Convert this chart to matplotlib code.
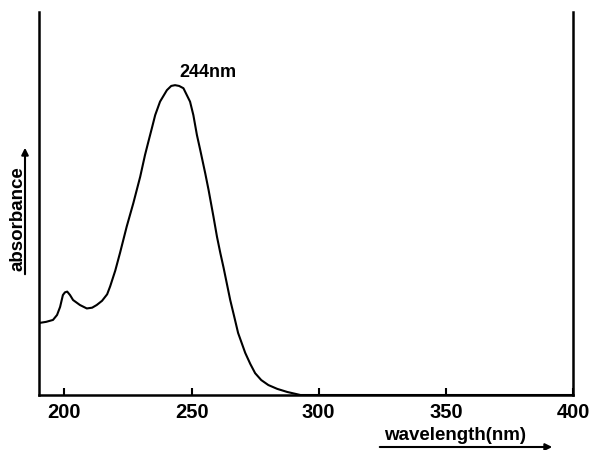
import numpy as np
import matplotlib.pyplot as plt
from matplotlib.patches import FancyArrowPatch

# UV spectrum (wavelength nm, relative absorbance)
wavelength = [190.0, 192.8, 195.5, 197.1, 198.3, 199.4, 200.2, 201.1, 202.2, 203.4,
              206.1, 208.8, 210.9, 212.7, 214.8, 216.8, 218.0, 220.0, 221.9, 224.5,
              227.1, 229.8, 231.7, 233.0, 234.4, 235.7, 237.6, 240.3, 242.0, 243.5,
              245.1, 246.8, 249.4, 250.7, 252.1, 253.4, 255.4, 256.7, 258.6, 260.0,
              261.3, 262.6, 265.2, 266.8, 268.3, 271.1, 273.1, 275.0, 277.4, 280.2,
              283.7, 287.6, 292.8, 400.0]
absorbance = [0.188, 0.191, 0.196, 0.209, 0.230, 0.261, 0.268, 0.270, 0.261, 0.248,
              0.235, 0.226, 0.228, 0.235, 0.246, 0.263, 0.284, 0.325, 0.372, 0.440,
              0.501, 0.570, 0.627, 0.661, 0.697, 0.731, 0.766, 0.796, 0.807, 0.809,
              0.807, 0.801, 0.766, 0.731, 0.679, 0.640, 0.578, 0.535, 0.466, 0.413,
              0.371, 0.332, 0.248, 0.204, 0.162, 0.110, 0.081, 0.057, 0.039, 0.026,
              0.016, 0.008, 0.0, 0.0]
xticks = [200, 250, 300, 350, 400]
peak_label = "244nm"

plt.rcParams['font.family'] = ['Liberation Sans', 'DejaVu Sans']

fig = plt.figure(figsize=(5.99, 4.5), dpi=100)
ax = fig.add_axes([0.0651, 0.1222, 0.8915, 0.8511])

ax.plot(wavelength, absorbance, color='black', lw=1.5,
        solid_joinstyle='round', solid_capstyle='round')

ax.set_xlim(190, 400)
ax.set_ylim(0, 1)
ax.spines['top'].set_visible(False)
for s in ['left', 'right', 'bottom']:
    ax.spines[s].set_linewidth(1.8)
ax.set_yticks([])
ax.set_xticks(xticks)
ax.set_xticklabels([str(t) for t in xticks], fontsize=14.5, fontweight='bold')
ax.tick_params(axis='x', direction='in', length=5, width=1.5, pad=6)

ax.text(256.5, 0.843, peak_label, ha='center', va='center',
        fontsize=13, fontweight='bold')

# axis captions with arrows, as in the original drawing
fig.text(18 / 599, 1 - 219 / 450, "absorbance", rotation=90, ha='center', va='center',
         fontsize=13.5, fontweight='bold')
fig.add_artist(FancyArrowPatch(
    (25 / 599, 1 - 277 / 450), (25 / 599, 1 - 145 / 450),
    transform=fig.transFigure, arrowstyle='-|>', mutation_scale=10,
    color='black', lw=1.5))

fig.text(455 / 599, 1 - 436 / 450, "wavelength(nm)", ha='center', va='center',
         fontsize=13.5, fontweight='bold')
fig.add_artist(FancyArrowPatch(
    (377 / 599, 1 - 447 / 450), (555 / 599, 1 - 447 / 450),
    transform=fig.transFigure, arrowstyle='-|>', mutation_scale=10,
    color='black', lw=1.5))

fig.savefig('out.png', dpi=100)
